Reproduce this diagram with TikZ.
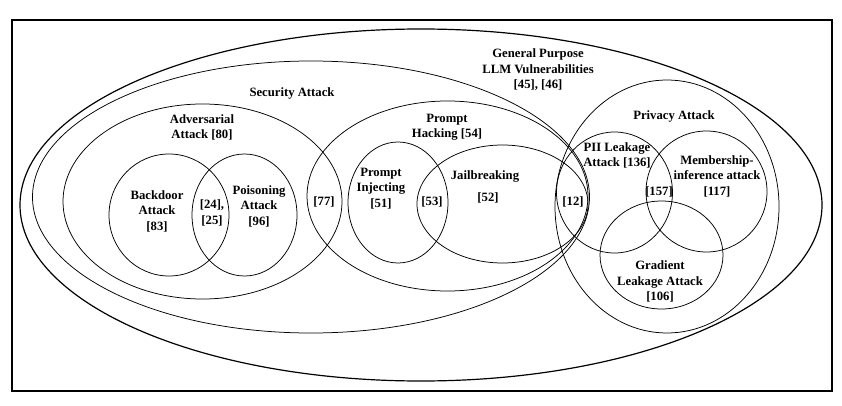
\documentclass[tikz,border=0pt]{standalone}
\usepackage{fontspec}
\setmainfont{Liberation Serif}
\usetikzlibrary{shapes.geometric}
\begin{document}
\begin{tikzpicture}[x=1pt,y=-1pt,
  set/.style={draw,ellipse,inner sep=0pt,line width=0.75pt},
  lbl/.style={align=center,font=\bfseries\fontsize{12.7}{15.5}\selectfont,inner sep=0pt}]
\useasboundingbox (0,0) rectangle (842,406);
\fill[white] (0,0) rectangle (842,406);
\node[draw,line width=2pt,minimum width=820pt,minimum height=371pt,inner sep=0pt] (frame) at (422,205.5) {};
% sets
\node[set,line width=1.2pt,minimum width=802pt,minimum height=352pt] (gen) at (421,205) {};
\node[set,minimum width=557pt,minimum height=272pt] (sec) at (311,197) {};
\node[set,minimum width=279pt,minimum height=195pt] (adv) at (202.5,201.5) {};
\node[set,minimum width=120pt,minimum height=122pt] (back) at (169,215) {};
\node[set,minimum width=105pt,minimum height=122pt] (pois) at (244.5,215) {};
\node[set,minimum width=281pt,minimum height=190pt] (ph) at (447.5,196) {};
\node[set,minimum width=100pt,minimum height=121pt] (pinj) at (398,202.5) {};
\node[set,minimum width=171pt,minimum height=118pt] (jail) at (502.5,204) {};
\node[set,minimum width=224pt,minimum height=253pt] (priv) at (667,206.5) {};
\node[set,minimum width=116pt,minimum height=121pt] (pii) at (614.5,192.5) {};
\node[set,minimum width=121pt,minimum height=121pt] (memb) at (706.5,191.5) {};
\node[set,minimum width=123pt,minimum height=108pt] (grad) at (661.5,255) {};
% labels
\node[lbl] (tgen) at (538,70) {General Purpose\\LLM Vulnerabilities\\{[45], [46]}};
\node[lbl] (tsec) at (292,93) {Security Attack};
\node[lbl] (tadv) at (202,127.5) {Adversarial\\Attack [80]};
\node[lbl] (tback) at (157,211) {Backdoor\\Attack\\{[83]}};
\node[lbl] (tbp) at (212,213) {[24],\\{[25]}};
\node[lbl] (tpois) at (259,206) {Poisoning\\Attack\\{[96]}};
\node[lbl] (t77) at (324,202) {[77]};
\node[lbl] (tph) at (447,127) {Prompt\\Hacking [54]};
\node[lbl] (tpinj) at (381,188.5) {Prompt\\Injecting\\{[51]}};
\node[lbl] (t53) at (432,202) {[53]};
\node[lbl] (tjail) at (485,176) {Jailbreaking};
\node[lbl] (t52) at (488,198) {[52]};
\node[lbl] (t12) at (573,202) {[12]};
\node[lbl] (tpriv) at (674,116) {Privacy Attack};
\node[lbl] (tpii) at (617,155.5) {PII Leakage\\Attack [136]};
\node[lbl] (tmemb) at (717,176) {Membership-\\inference attack\\{[117]}};
\node[lbl] (t157) at (659,192) {[157]};
\node[lbl] (tgrad) at (660,281.5) {Gradient\\Leakage Attack\\{[106]}};
\end{tikzpicture}
\end{document}
